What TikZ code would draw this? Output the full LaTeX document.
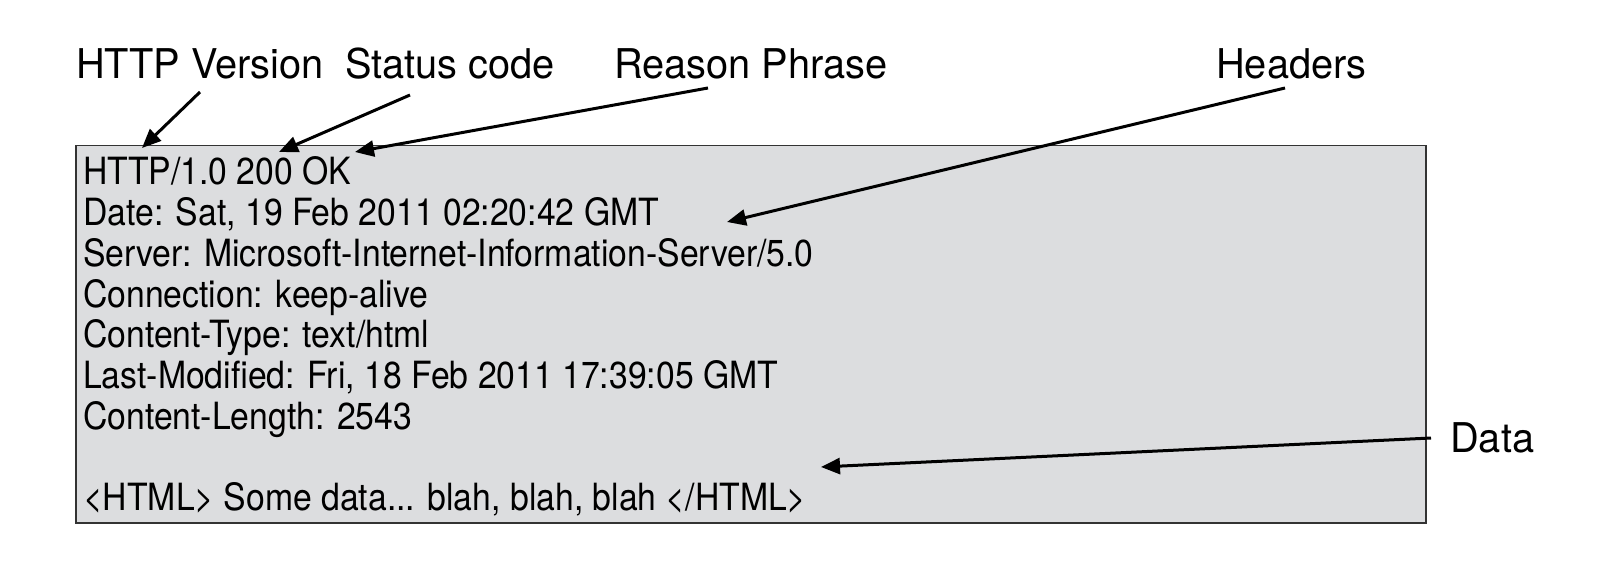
\documentclass[tikz,border=0pt]{standalone}
\usepackage{fontspec}
\setmainfont{TeX Gyre Heros}[FakeStretch=0.90]
\newfontfamily\lblfont{TeX Gyre Heros}[FakeStretch=0.97]
\usetikzlibrary{arrows.meta}
\definecolor{boxfill}{HTML}{DCDDDF}
\definecolor{boxline}{HTML}{333333}
\tikzset{
  lbl/.style={anchor=base west, inner sep=0pt, font=\lblfont\fontsize{41}{41}\selectfont},
  line/.style={anchor=base west, inner sep=0pt, font=\fontsize{37.5}{37.5}\selectfont},
  pointer/.style={line width=3pt, -{Triangle[length=19pt,width=16pt]}, shorten >=0pt}
}
\begin{document}
\begin{tikzpicture}[x=1pt,y=-1pt]
\useasboundingbox (0,0) rectangle (1600,569);
\node[draw=boxline, fill=boxfill, line width=1.5pt, minimum width=1350pt, minimum height=377pt, anchor=north west, inner sep=0pt] (box) at (75,145) {};
\node[line] (l1) at (83,185) {HTTP/1.0 200 OK};
\node[line] (l2) at (83,226) {Date: Sat, 19 Feb 2011 02:20:42 GMT};
\node[line] (l3) at (83,266) {Server: Microsoft-Internet-Information-Server/5.0};
\node[line] (l4) at (83,307) {Connection: keep-alive};
\node[line] (l5) at (83,347) {Content-Type: text/html};
\node[line] (l6) at (83,388) {Last-Modified: Fri, 18 Feb 2011 17:39:05 GMT};
\node[line] (l7) at (83,429) {Content-Length: 2543};
\node[line] (l9) at (83,510) {<HTML> Some data... blah, blah, blah </HTML>};
\node[lbl] (hv) at (76,79) {HTTP Version};
\node[lbl] (sc) at (345,79) {Status code};
\node[lbl] (rp) at (614,79) {Reason Phrase};
\node[lbl] (hd) at (1216,79) {Headers};
\node[lbl] (dt) at (1450,452) {Data};
\coordinate (hvA) at (200,92);  \coordinate (hvB) at (142,148);
\coordinate (scA) at (410,95);  \coordinate (scB) at (279,152);
\coordinate (rpA) at (708,88);  \coordinate (rpB) at (355,152);
\coordinate (hdA) at (1285,88); \coordinate (hdB) at (727,222);
\coordinate (dtA) at (1431,438); \coordinate (dtB) at (821,467);
\draw[pointer] (hvA) -- (hvB);
\draw[pointer] (scA) -- (scB);
\draw[pointer] (rpA) -- (rpB);
\draw[pointer] (hdA) -- (hdB);
\draw[pointer] (dtA) -- (dtB);
\end{tikzpicture}
\end{document}
